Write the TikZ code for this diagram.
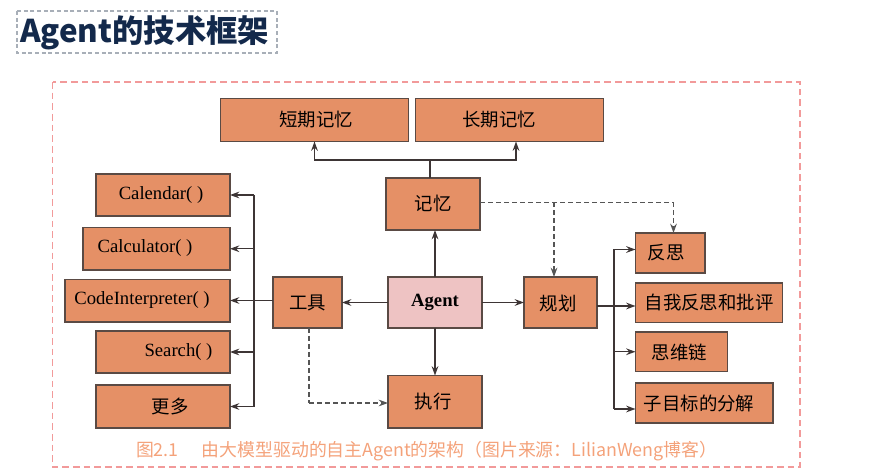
\documentclass[tikz,border=0pt]{standalone}
\usepackage{fontspec}
\setmainfont{Liberation Serif}
\newfontfamily\cjk{Noto Sans CJK SC}
\usetikzlibrary{arrows.meta,calc}
\definecolor{boxfill}{HTML}{E59066}
\definecolor{boxline}{HTML}{5A4A44}
\definecolor{agentfill}{HTML}{EEC3C3}
\definecolor{linec}{HTML}{3D3535}
\definecolor{dashc}{HTML}{555555}
\definecolor{titlec}{HTML}{13294B}
\definecolor{capc}{HTML}{F4A27A}
\definecolor{outerc}{HTML}{F29A9A}
\definecolor{titlebox}{HTML}{A8AFB8}
\begin{document}
\begin{tikzpicture}[x=0.75pt,y=-0.75pt,
  every node/.style={inner sep=0pt,outer sep=0pt},
  boxr/.style={draw=boxline,fill=boxfill,line width=1.1pt},
  sz/.style 2 args={minimum width=#1*0.75pt,minimum height=#2*0.75pt},
  lbl/.style={font=\fontsize{14}{16}\selectfont},
  zh/.style={font=\cjk\fontsize{13.8}{16}\selectfont},
  conn/.style={draw=linec,line width=1.1pt,-{Stealth[length=7pt,width=5pt]}},
  plain/.style={draw=linec,line width=1.1pt},
  dconn/.style={draw=dashc,line width=1pt,dash pattern=on 3.5pt off 2.5pt,-{Stealth[length=7pt,width=5pt]}},
  dplain/.style={draw=dashc,line width=1pt,dash pattern=on 3.5pt off 2.5pt}]
\useasboundingbox (0,0) rectangle (884,473);
% frames
\draw[titlebox,line width=0.9pt,dash pattern=on 3pt off 2pt] (17,11) rectangle (277,53);
\node[anchor=west,text=titlec,font=\cjk\bfseries\fontsize{23.5}{26}\selectfont] (title) at (20,33) {Agent的技术框架};
\draw[outerc,line width=1.1pt,dash pattern=on 5pt off 3pt] (52.5,82) rectangle (800,467);
% boxes
\node[boxr,sz={188}{43}] (stm) at (314.5,120) {};
\node[boxr,sz={188}{43}] (ltm) at (509.5,120) {};
\node[boxr,sz={94}{52}] (mem) at (433,204) {};
\node[boxr,sz={134}{42}] (cal) at (163,195) {};
\node[boxr,sz={147}{42.5}] (calc) at (156.5,248.75) {};
\node[boxr,sz={165}{42.5}] (code) at (147.5,300.75) {};
\node[boxr,sz={134}{42}] (srch) at (163,352) {};
\node[boxr,sz={134}{43}] (more) at (163,406.5) {};
\node[boxr,sz={69}{51}] (tool) at (307.5,302.5) {};
\node[boxr,fill=agentfill,sz={94}{51}] (agent) at (435,302.5) {};
\node[boxr,sz={94}{52.5}] (exec) at (435,401.75) {};
\node[boxr,sz={73}{51}] (plan) at (560.5,302.5) {};
\node[boxr,sz={69.5}{40}] (refl) at (670.25,253) {};
\node[boxr,sz={147}{39.5}] (self) at (709,302.75) {};
\node[boxr,sz={92}{39.5}] (cot) at (681.5,351.75) {};
\node[boxr,sz={137.5}{40}] (sub) at (704.25,403) {};
% labels
\node[zh] (tstm) at (316,120) {短期记忆};
\node[zh] (tltm) at (499,120) {长期记忆};
\node[zh] (tmem) at (433,204) {记忆};
\node[lbl] (tcal) at (161,195) {Calendar( )};
\node[lbl] (tcalc) at (145,248.5) {Calculator( )};
\node[lbl] (tcode) at (142,300.5) {CodeInterpreter( )};
\node[lbl] (tsrch) at (178.5,352) {Search( )};
\node[zh] (tmore) at (170,406.5) {更多};
\node[zh] (ttool) at (307.5,302.5) {工具};
\node[font=\bfseries\fontsize{14}{16}\selectfont] (tagent) at (435,302.5) {Agent};
\node[zh] (texec) at (433,401.5) {执行};
\node[zh] (tplan) at (558,304) {规划};
\node[zh] (trefl) at (666,253) {反思};
\node[zh] (tself) at (709,303) {自我反思和批评};
\node[zh] (tcot) at (679.5,352) {思维链};
\node[zh] (tsub) at (699,403) {子目标的分解};
\node[text=capc,font=\cjk\fontsize{13.4}{15}\selectfont,anchor=west] (cap) at (136,451) {图2.1\hspace{1.3em}由大模型驱动的自主Agent的架构（图片来源：LilianWeng博客）};
% memory connectors
\coordinate (mj) at (430,160);
\coordinate (stmA) at (314.5,141.5);
\coordinate (ltmA) at (516,141.5);
\draw[plain] (mem.north -| mj) -- (mj);
\draw[conn] (mj) -| (stmA);
\draw[conn] (mj) -| (ltmA);
% agent connectors
\draw[conn] (agent.north) -- (agent.north |- mem.south);
\draw[conn] (agent.south) -- (exec.north);
\draw[conn] (agent.west) -- (tool.east);
\draw[conn] (agent.east) -- (plan.west);
% tools
\coordinate (tj) at (254,300.5);
\coordinate (tt) at (254,195);
\coordinate (tb) at (254,406.5);
\draw[conn] (tool.west |- tj) -- (code.east |- tj);
\draw[plain] (tt) -- (tb);
\draw[conn] (tt) -- (cal.east);
\draw[conn] (tt |- calc.east) -- (calc.east);
\draw[conn] (tt |- srch.east) -- (srch.east);
\draw[conn] (tb) -- (more.east);
% tool -> exec dashed
\coordinate (td) at (309,403);
\draw[dplain] (tool.south -| td) -- (td);
\draw[dconn] (td) -- (exec.west |- td);
% memory dashed
\coordinate (md) at (673.5,202.5);
\coordinate (md2) at (554,202.5);
\draw[dplain] (mem.east |- md) -- (md);
\draw[dconn] (md) -- (refl.north -| md);
\draw[dconn] (md2) -- (plan.north -| md2);
% planning
\coordinate (pj) at (614,306);
\coordinate (pt) at (614,249.5);
\coordinate (pb) at (614,409);
\draw[plain] (plan.east |- pj) -- (pj);
\draw[plain] (pt) -- (pb);
\draw[conn] (pt) -- (refl.west |- pt);
\draw[conn] (pj) -- (self.west |- pj);
\draw[conn] (pt |- cot.west) -- (cot.west);
\draw[conn] (pb) -- (sub.west |- pb);
\end{tikzpicture}
\end{document}
